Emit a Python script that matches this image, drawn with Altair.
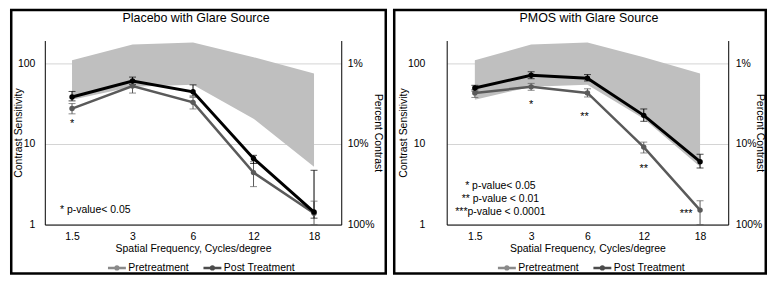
import altair as alt
import pandas as pd

FONT = "Liberation Sans"

cats = ["1.5", "3", "6", "12", "18"]
series_names = ["Pretreatment", "Post Treatment"]
series_colors = ["#5a5a5a", "#000000"]
series_widths = [2.5, 3.0]

# normal range (shaded band)
norm_lo = [35, 51, 54, 20.5, 5.2]
norm_hi = [108, 170, 180, 118, 74]

# Placebo with glare source
plac_pre = [27.3, 52, 32.6, 4.4, 1.38]
plac_pre_lo = [23.5, 42.5, 27, 2.95, 1.0]
plac_pre_hi = [31.5, 57, 37.5, 6.0, 1.95]
plac_post = [38, 60, 44, 6.6, 1.43]
plac_post_lo = [34, 54, 39, 5.7, 1.2]
plac_post_hi = [44.5, 67, 53.7, 7.2, 4.7]
plac_star_cat = ["1.5"]
plac_star_txt = ["*"]
plac_star_y = [17.7]
plac_notes = ["* p-value< 0.05"]

# PMOS with glare source
pmos_pre = [42.7, 50.7, 42.7, 9.1, 1.51]
pmos_pre_lo = [37.5, 46, 38, 7.7, 1.0]
pmos_pre_hi = [47, 56, 48, 10.5, 1.97]
pmos_post = [49, 70.7, 65, 22.5, 6.0]
pmos_post_lo = [45, 64, 60, 19, 5.0]
pmos_post_hi = [53, 78, 72, 27, 7.4]
pmos_star_cat = ["3", "6", "12", "18"]
pmos_star_txt = ["*", "**", "**", "***"]
pmos_star_y = [30.3, 21.4, 4.9, 1.34]
pmos_notes = ["* p-value< 0.05", "** p-value < 0.01", "***p-value < 0.0001"]

H = 185
yscale = alt.Scale(type="log", domain=[1, 190], nice=False)
cscale = alt.Scale(domain=series_names, range=series_colors)
wscale = alt.Scale(domain=series_names, range=series_widths)
one = pd.DataFrame({"k": [0]})

SYM = "M-1,0L1,0M-0.15,0A0.15,0.15,0,1,1,0.15,0A0.15,0.15,0,1,1,-0.15,0"
FW = 2.5


def make_df(pre, pre_lo, pre_hi, post, post_lo, post_hi):
    recs = []
    for name, v, l, h in [("Pretreatment", pre, pre_lo, pre_hi),
                          ("Post Treatment", post, post_lo, post_hi)]:
        for c, a, b, d in zip(cats, v, l, h):
            recs.append(dict(cat=c, series=name, val=a, lo=b, hi=d))
    return pd.DataFrame(recs)


def frame_rules(x0, x1, y0, y1):
    h = FW / 2
    parts = [
        dict(x=alt.value(x0 - h), x2=alt.value(x1 + h), y=alt.value(y0)),
        dict(x=alt.value(x0 - h), x2=alt.value(x1 + h), y=alt.value(y1)),
        dict(x=alt.value(x0), y=alt.value(y0), y2=alt.value(y1)),
        dict(x=alt.value(x1), y=alt.value(y0), y2=alt.value(y1)),
    ]
    return [alt.Chart(one).mark_rule(color="black", strokeWidth=FW).encode(**p)
            for p in parts]


def panel(title, df, star_cat, star_txt, star_y, star_dx, notes, note_align,
          note_x, note_y, width, xpad, frame_x, frame_x2, title_x,
          ylab_pad, ytitle_x, rtitle_x, rlab_pad, legend_x):
    xaxis = alt.Axis(title="Spatial Frequency, Cycles/degree", labelAngle=0,
                     labelPadding=7, titlePadding=2, grid=False, ticks=False,
                     domainColor="black")
    xenc = alt.X("cat:N", scale=alt.Scale(type="point", domain=cats, padding=xpad),
                 axis=xaxis)
    yaxis = alt.Axis(values=[1, 10, 100], format="d", grid=True, gridColor="#d4d4d4",
                     ticks=False, domainColor="black", labelPadding=ylab_pad,
                     title="Contrast Sensitivity", titleX=ytitle_x, titleY=H / 2,
                     titleAngle=270, titleBaseline="middle", titleAlign="center")
    raxis = alt.Axis(values=[1, 10, 100], orient="right", grid=False, ticks=False,
                     domainColor="black", labelPadding=rlab_pad,
                     labelExpr="format(100 / datum.value, 'd') + '%'",
                     title="Percent Contrast", titleX=rtitle_x, titleY=H / 2,
                     titleAngle=90, titleBaseline="middle", titleAlign="center")
    legend = alt.Legend(orient="none", legendX=legend_x, legendY=218,
                        direction="horizontal", title=None, symbolType=SYM,
                        symbolSize=324, symbolStrokeWidth=2.5, labelFontSize=10.5,
                        labelOffset=1, columnPadding=9, labelColor="black",
                        labelFont=FONT)
    cenc = alt.Color("series:N", scale=cscale, legend=legend)

    normdf = pd.DataFrame({"cat": cats, "lo": norm_lo, "hi": norm_hi})

    frame = frame_rules(frame_x, frame_x2, -30.75, 234.25)
    area = alt.Chart(normdf).mark_area(color="#bfbfbf", opacity=1).encode(
        x=xenc, y=alt.Y("lo:Q", scale=yscale, axis=yaxis), y2="hi:Q")
    rules = alt.Chart(df).mark_rule(strokeWidth=1).encode(
        x=xenc, y=alt.Y("lo:Q", scale=yscale, axis=yaxis), y2="hi:Q", color=cenc)
    caplo = alt.Chart(df).mark_tick(thickness=1, size=7).encode(
        x=xenc, y=alt.Y("lo:Q", scale=yscale, axis=yaxis), color=cenc)
    caphi = alt.Chart(df).mark_tick(thickness=1, size=7).encode(
        x=xenc, y=alt.Y("hi:Q", scale=yscale, axis=yaxis), color=cenc)
    lines = alt.Chart(df).mark_line().encode(
        x=xenc, y=alt.Y("val:Q", scale=yscale, axis=yaxis), color=cenc,
        size=alt.Size("series:N", scale=wscale, legend=None))
    points = alt.Chart(df).mark_circle(size=30, opacity=1).encode(
        x=xenc, y=alt.Y("val:Q", scale=yscale, axis=yaxis), color=cenc)
    stars = []
    for c, t, v, dx in zip(star_cat, star_txt, star_y, star_dx):
        sdf = pd.DataFrame({"cat": [c], "y": [v], "t": [t]})
        stars.append(alt.Chart(sdf).mark_text(fontSize=11, dx=dx, baseline="middle",
                                              color="black").encode(
            x=xenc, y=alt.Y("y:Q", scale=yscale, axis=yaxis), text="t:N"))
    note = alt.Chart(one).mark_text(text=notes, align=note_align, baseline="top",
                                    lineHeight=13, fontSize=10.5, color="black").encode(
        x=alt.value(note_x), y=alt.value(note_y))
    ttl = alt.Chart(one).mark_text(text=title, fontSize=12.5, baseline="alphabetic",
                                   align="center", color="black").encode(
        x=alt.value(title_x), y=alt.value(-18.9))
    inner = alt.layer(area, rules, caplo, caphi, lines, points, *stars, note, ttl, *frame)
    rlayer = alt.Chart(df).mark_point(opacity=0).encode(
        x=xenc, y=alt.Y("val:Q", scale=yscale, axis=raxis))
    return alt.layer(inner, rlayer).resolve_scale(y="independent").properties(
        width=width, height=H)


left = panel("Placebo with Glare Source",
             make_df(plac_pre, plac_pre_lo, plac_pre_hi, plac_post, plac_post_lo, plac_post_hi),
             plac_star_cat, plac_star_txt, plac_star_y, [0],
             plac_notes, "left", 15.3, 165.8,
             298, 0.45, -33.75, 342.75, 152,
             10, -26, 36, 6, 62)
right = panel("PMOS with Glare Source",
              make_df(pmos_pre, pmos_pre_lo, pmos_pre_hi, pmos_post, pmos_post_lo, pmos_post_hi),
              pmos_star_cat, pmos_star_txt, pmos_star_y, [0, -3, 0, -14],
              pmos_notes, "center", 54, 141.3,
              283, 0.5, -52.75, 320.75, 143,
              22, -43, 31, 7, 50)

chart = alt.hconcat(left, right, spacing=2).resolve_scale(color="independent").properties(
    padding=0
).configure(font=FONT).configure_view(stroke=None).configure_axis(
    labelFont=FONT, titleFont=FONT, labelFontSize=10.5, titleFontSize=10.5,
    labelColor="black", titleColor="black", titleFontWeight="normal", domainWidth=1
).configure_text(font=FONT)

chart.save("out.html", embed_options={"renderer": "svg", "actions": False})
